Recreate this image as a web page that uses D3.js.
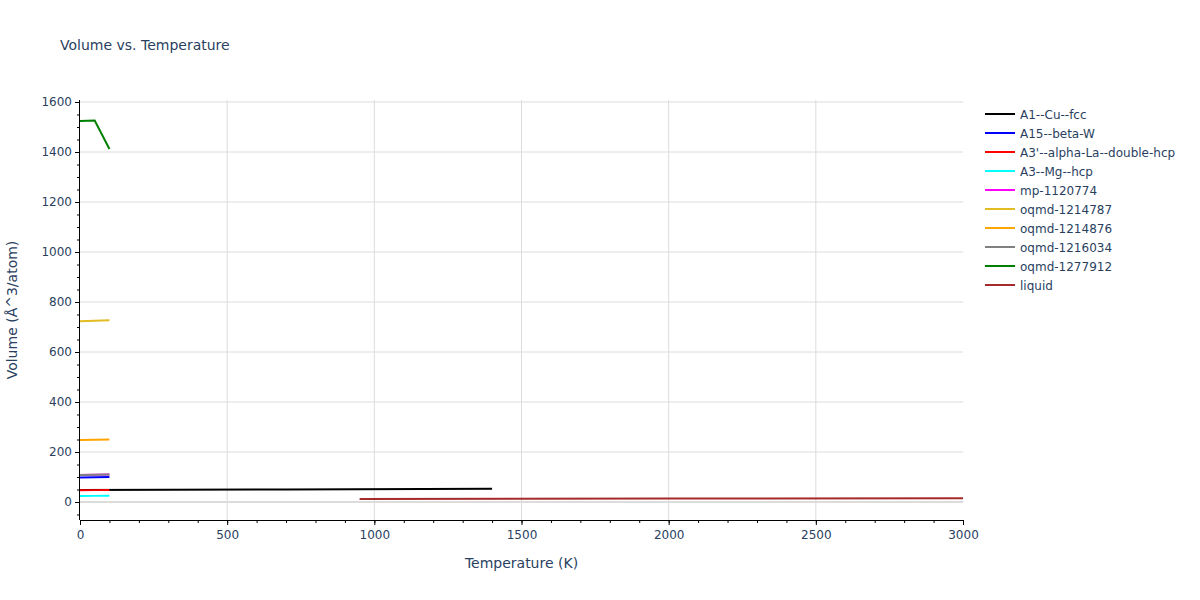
<!DOCTYPE html>
<html>
<head>
<meta charset="utf-8">
<script src="https://cdn.jsdelivr.net/npm/d3@7"></script>
<style>
  body { margin: 0; background: #fff; }
  svg text { font-family: "DejaVu Sans", Verdana, sans-serif; fill: #2a3f5f; }
</style>
</head>
<body>
<div id="container"></div>
<script>
// data
var phaseNames = ["A1--Cu--fcc", "A15--beta-W", "A3'--alpha-La--double-hcp", "A3--Mg--hcp",
  "mp-1120774", "oqmd-1214787", "oqmd-1214876", "oqmd-1216034", "oqmd-1277912", "liquid"]
var phaseColors = ["black", "blue", "red", "cyan", "magenta", "#e3bb23", "orange", "grey", "green", "brown"]

var tempsShort = [0, 50, 100]
var tempsA1 = [0, 700, 1400]
var tempsLiquid = [950, 2000, 3000]

var volA1 = [48, 50.5, 53]
var volA15 = [98, 99, 100]
var volA3p = [47, 47.5, 48]
var volA3 = [24, 24.5, 25]
var volMp = [108, 109, 110]
var vol1214787 = [723, 725, 727]
var vol1214876 = [248, 249, 250]
var vol1216034 = [108, 109, 110]
var vol1277912 = [1524, 1526, 1412]
var volLiquid = [12.5, 13.8, 15]

var xTicks = [0, 500, 1000, 1500, 2000, 2500, 3000]
var yTicks = [0, 200, 400, 600, 800, 1000, 1200, 1400, 1600]

var series = [
  { t: tempsA1, v: volA1 },
  { t: tempsShort, v: volA15 },
  { t: tempsShort, v: volA3p },
  { t: tempsShort, v: volA3 },
  { t: tempsShort, v: volMp },
  { t: tempsShort, v: vol1214787 },
  { t: tempsShort, v: vol1214876 },
  { t: tempsShort, v: vol1216034 },
  { t: tempsShort, v: vol1277912 },
  { t: tempsLiquid, v: volLiquid }
]

var W = 1200, H = 600
var margin = { top: 100, right: 237, bottom: 80, left: 80 }
var width = W - margin.left - margin.right,
    height = H - margin.top - margin.bottom

var svg = d3.select("#container").append("svg")
    .attr("width", W).attr("height", H)

var x = d3.scaleLinear().domain([0, 3000]).range([0, width])
var y = d3.scaleLinear().domain([-72, 1608]).range([height, 0])

var g = svg.append("g")
    .attr("transform", "translate(" + margin.left + "," + margin.top + ")")

// grid
g.selectAll(".xgrid").data(xTicks.slice(1, -1)).enter().append("line")
  .attr("x1", d => x(d)).attr("x2", d => x(d))
  .attr("y1", 0).attr("y2", height)
  .attr("stroke", "#dcdcdc").attr("stroke-width", 1)
g.selectAll(".ygrid").data(yTicks).enter().append("line")
  .attr("x1", 0).attr("x2", width)
  .attr("y1", d => y(d)).attr("y2", d => y(d))
  .attr("stroke", "#dcdcdc").attr("stroke-width", d => d === 0 ? 2 : 1)

// lines
var line = d3.line().x(d => x(d[0])).y(d => y(d[1]))
var plot = g.append("g")
series.forEach(function(s, i) {
  plot.append("path")
    .datum(s.t.map((t, j) => [t, s.v[j]]))
    .attr("d", line)
    .attr("fill", "none")
    .attr("stroke", phaseColors[i])
    .attr("stroke-width", 2)
})

// axes
var xMinor = g.append("g").attr("transform", "translate(0," + height + ")")
  .call(d3.axisBottom(x).tickValues(d3.range(0, 3001, 100)).tickSize(3).tickFormat(""))
var xAxis = g.append("g").attr("transform", "translate(0," + height + ")")
  .call(d3.axisBottom(x).tickValues(xTicks).tickSize(5).tickPadding(5).tickFormat(d3.format("d")))
var yMinor = g.append("g")
  .call(d3.axisLeft(y).tickValues(d3.range(-50, 1601, 50)).tickSize(3).tickFormat(""))
var yAxis = g.append("g")
  .call(d3.axisLeft(y).tickValues(yTicks).tickSize(5).tickPadding(3).tickFormat(d3.format("d")))

;[xMinor, xAxis, yMinor, yAxis].forEach(function(a) {
  a.select(".domain").attr("stroke", "black").attr("stroke-width", 1)
  a.selectAll(".tick line").attr("stroke", "black")
  a.selectAll(".tick text").attr("font-size", 12).attr("fill", "#2a3f5f")
    .attr("font-family", "\"DejaVu Sans\", Verdana, sans-serif")
})
xMinor.select(".domain").remove()
yMinor.select(".domain").remove()
xAxis.select(".domain").attr("d", "M0,0.5H" + width)
yAxis.select(".domain").attr("d", "M-0.5," + height + "V0")

// titles
svg.append("text").attr("x", 60).attr("y", 50)
  .attr("font-size", 14).text("Volume vs. Temperature")
svg.append("text")
  .attr("x", margin.left + width / 2).attr("y", 568)
  .attr("text-anchor", "middle").attr("font-size", 14)
  .text("Temperature (K)")
svg.append("text")
  .attr("transform", "translate(17," + (margin.top + height / 2) + ") rotate(-90)")
  .attr("text-anchor", "middle").attr("font-size", 14)
  .text("Volume (Å^3/atom)")

// legend
var legend = svg.append("g").attr("transform", "translate(985,114)")
phaseNames.forEach(function(n, i) {
  var row = legend.append("g").attr("transform", "translate(0," + i * 19 + ")")
  row.append("line").attr("x1", 0).attr("x2", 30).attr("y1", 0).attr("y2", 0)
    .attr("stroke", phaseColors[i]).attr("stroke-width", 2)
  row.append("text").attr("x", 35).attr("y", 4.5).attr("font-size", 12).text(n)
})
</script>
</body>
</html>
